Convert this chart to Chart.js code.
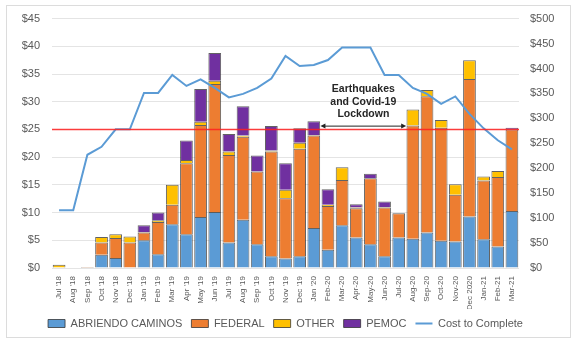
<!DOCTYPE html>
<html>
<head>
<meta charset="utf-8">
<script src="https://cdn.jsdelivr.net/npm/chart.js"></script>
<style>
  html, body { margin: 0; padding: 0; background: #fff; }
  #frame { position: absolute; left: 6px; top: 5px; width: 563px; height: 331px; border: 1px solid #dcdcdc; }
  #wrap { position: absolute; left: 0; top: 0; width: 571px; height: 339px; }
</style>
</head>
<body>
<div id="frame"></div>
<div id="wrap"><canvas id="chart" width="571" height="339"></canvas></div>
<script>
var months = ["Jul '18", "Aug '18", "Sep '18", "Oct '18", "Nov '18", "Dec '18",
  "Jan '19", "Feb '19", "Mar '19", "Apr '19", "May '19", "Jun '19", "Jul '19", "Aug '19",
  "Sep '19", "Oct '19", "Nov '19", "Dec '19", "Jan '20", "Feb-20", "Mar-20", "Apr-20",
  "May-20", "Jun-20", "Jul-20", "Aug-20", "Sep-20", "Oct-20", "Nov-20", "Dec 2020",
  "Jan-21", "Feb-21", "Mar-21"];

// $ millions, left axis
var abriendoCaminos = [0, 0, 0, 2.4, 1.8, 0, 5.0, 2.5, 7.9, 6.1, 9.2, 10.1, 4.6, 8.7, 4.3, 2.1, 1.7,
  2.1, 7.2, 3.3, 7.7, 5.5, 4.3, 2.1, 5.5, 5.3, 6.4, 4.9, 4.8, 9.3, 5.2, 3.9, 10.3];
var federal = [0, 0, 0.2, 2.2, 3.6, 4.6, 1.4, 5.8, 3.5, 12.8, 16.6, 23.1, 15.8, 15.0, 13.1, 18.9, 10.9,
  19.4, 16.7, 7.9, 8.2, 5.3, 11.9, 8.8, 4.4, 20.4, 24.6, 20.4, 8.4, 24.8, 10.6, 12.5, 14.7];
var other = [0.6, 0, 0, 1.0, 0.7, 1.1, 0.1, 0.3, 3.6, 0.6, 0.6, 0.6, 0.6, 0.2, 0, 0.2, 1.5,
  1.1, 0.1, 0.2, 2.3, 0.1, 0, 0.1, 0, 2.9, 1.1, 1.4, 1.9, 3.4, 0.7, 1.1, 0];
var pemoc = [0, 0, 0, 0, 0, 0, 1.2, 1.4, 0, 3.5, 5.9, 5.0, 3.2, 5.3, 2.9, 4.4, 4.8,
  2.6, 2.5, 2.8, 0, 0.6, 0.8, 1.0, 0, 0, 0, 0, 0, 0, 0, 0, 0.3];

// $ millions, right axis
var costToComplete = [116, 116, 227, 243, 278, 278, 351, 351, 387, 365, 378, 361, 342, 349, 361, 380, 425,
  405, 407, 417, 442, 442, 442, 387, 387, 361, 349, 329, 344, 309, 280, 256, 238];

var leftTicks = { min: 0, max: 45, step: 5 };
var rightTicks = { min: 0, max: 500, step: 50 };
var targetLevel = 25;

var noteLines = ["Earthquakes", "and Covid-19", "Lockdown"];
var noteFrom = "Jan '20";
var noteTo = "Aug-20";

var grey = "#595959";
var edge = "rgba(45,45,45,0.75)";

var notePlugin = {
  id: "note",
  afterDatasetsDraw: function(chart) {
    var ctx = chart.ctx;
    var area = chart.chartArea;
    var xs = chart.scales.x;
    var ys = chart.scales.y;

    // red reference line
    var yRef = ys.getPixelForValue(targetLevel);
    ctx.save();
    ctx.strokeStyle = "rgba(255,30,30,0.85)";
    ctx.lineWidth = 1.5;
    ctx.beginPath();
    ctx.moveTo(area.left, yRef);
    ctx.lineTo(area.right, yRef);
    ctx.stroke();

    // double arrow between the bars
    var i1 = months.indexOf(noteFrom), i2 = months.indexOf(noteTo);
    var step = xs.getPixelForValue(1) - xs.getPixelForValue(0);
    var x1 = xs.getPixelForValue(i1) + step * 0.47;
    var x2 = xs.getPixelForValue(i2) - step * 0.47;
    var ya = ys.getPixelForValue(25.6);
    ctx.strokeStyle = "#222";
    ctx.fillStyle = "#222";
    ctx.lineWidth = 1;
    ctx.beginPath();
    ctx.moveTo(x1 + 3, ya);
    ctx.lineTo(x2 - 3, ya);
    ctx.stroke();
    ctx.beginPath();
    ctx.moveTo(x1, ya); ctx.lineTo(x1 + 5, ya - 2.5); ctx.lineTo(x1 + 5, ya + 2.5); ctx.closePath();
    ctx.fill();
    ctx.beginPath();
    ctx.moveTo(x2, ya); ctx.lineTo(x2 - 5, ya - 2.5); ctx.lineTo(x2 - 5, ya + 2.5); ctx.closePath();
    ctx.fill();

    // label
    ctx.font = "bold 10.5px 'Liberation Sans', Arial, sans-serif";
    ctx.textAlign = "center";
    ctx.textBaseline = "middle";
    ctx.fillStyle = "#262626";
    var cx = (x1 + x2) / 2;
    var y0 = ys.getPixelForValue(32.2);
    for (var k = 0; k < noteLines.length; k++) {
      ctx.fillText(noteLines[k], cx, y0 + k * 12.5);
    }
    ctx.restore();
  }
};

function barSet(label, data, color) {
  return {
    type: "bar",
    label: label,
    data: data,
    backgroundColor: color,
    borderColor: edge,
    borderWidth: 1,
    yAxisID: "y",
    stack: "s",
    order: 1,
    barPercentage: 0.9,
    categoryPercentage: 1.0
  };
}

new Chart(document.getElementById("chart"), {
  data: {
    labels: months,
    datasets: [
      barSet("ABRIENDO CAMINOS", abriendoCaminos, "#5B9BD5"),
      barSet("FEDERAL", federal, "#ED7D31"),
      barSet("OTHER", other, "#FFC000"),
      barSet("PEMOC", pemoc, "#7030A0"),
      {
        type: "line",
        label: "Cost to Complete",
        data: costToComplete,
        borderColor: "#5B9BD5",
        backgroundColor: "#5B9BD5",
        borderWidth: 2,
        pointRadius: 0,
        tension: 0,
        yAxisID: "y1",
        order: 0
      }
    ]
  },
  options: {
    responsive: false,
    animation: false,
    layout: { padding: { top: 17, left: 0, right: 0, bottom: 0 } },
    scales: {
      x: {
        stacked: true,
        grid: { display: false },
        border: { display: false },
        ticks: {
          autoSkip: false, minRotation: 90, maxRotation: 90, padding: 0,
          color: grey, font: { family: "'Liberation Sans', Arial", size: 8 }
        },
        afterFit: function(s) { s.height = 41; }
      },
      y: {
        position: "left",
        stacked: true,
        min: leftTicks.min, max: leftTicks.max,
        border: { display: false },
        grid: { color: "#e4e4e4", drawTicks: false },
        ticks: {
          stepSize: leftTicks.step, padding: 12, color: grey,
          font: { family: "'Liberation Sans', Arial", size: 11 },
          callback: function(v) { return "$" + v; }
        },
        afterFit: function(s) { s.width = 52; }
      },
      y1: {
        position: "right",
        min: rightTicks.min, max: rightTicks.max,
        border: { display: false },
        grid: { drawOnChartArea: false, drawTicks: false },
        ticks: {
          stepSize: rightTicks.step, padding: 11, color: grey,
          font: { family: "'Liberation Sans', Arial", size: 11 },
          callback: function(v) { return "$" + v; }
        },
        afterFit: function(s) { s.width = 52; }
      }
    },
    plugins: {
      tooltip: { enabled: false },
      legend: {
        position: "bottom",
        labels: {
          usePointStyle: true,
          pointStyleWidth: 17,
          boxHeight: 8,
          padding: 9,
          color: grey,
          font: { family: "'Liberation Sans', Arial", size: 11 },
          sort: function(a, b) { return a.datasetIndex - b.datasetIndex; },
          generateLabels: function(chart) {
            var items = Chart.defaults.plugins.legend.labels.generateLabels(chart);
            items.forEach(function(it) {
              var ds = chart.data.datasets[it.datasetIndex];
              it.pointStyle = ds.type === "line" ? "line" : "rect";
            });
            return items;
          }
        }
      }
    }
  },
  plugins: [notePlugin]
});
</script>
</body>
</html>
